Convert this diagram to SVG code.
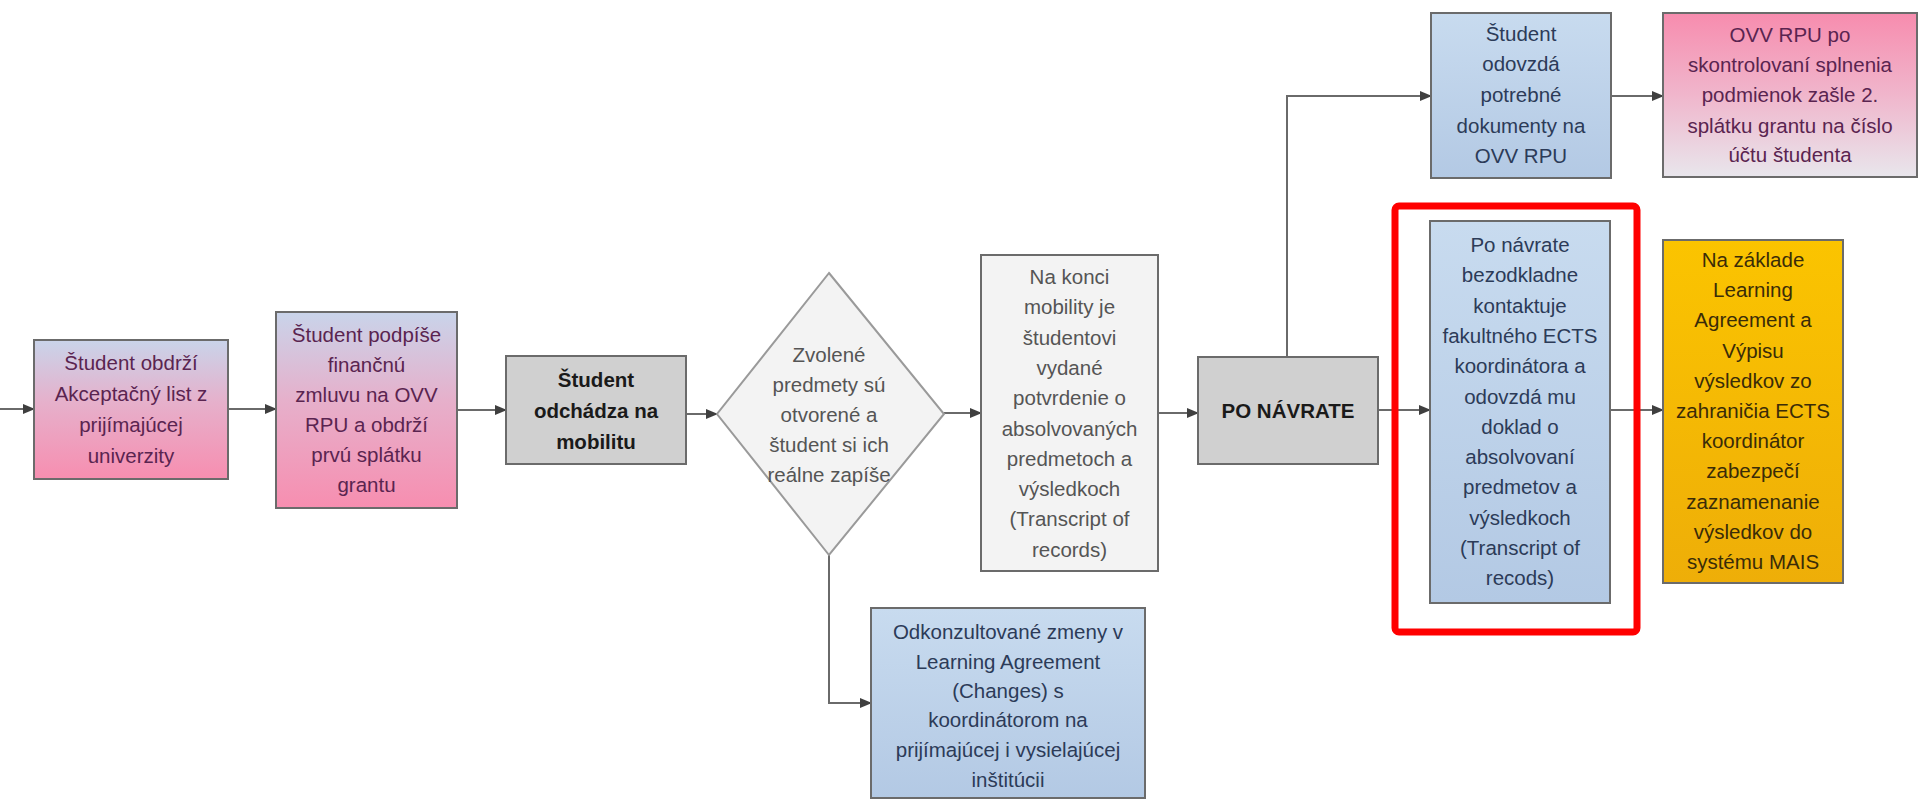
<svg xmlns="http://www.w3.org/2000/svg" width="1920" height="800" viewBox="0 0 1920 800">
<defs>
<linearGradient id="gPink" x1="0" y1="0" x2="0" y2="1">
<stop offset="0" stop-color="#c9d4ea"/><stop offset="0.45" stop-color="#e6b0cb"/><stop offset="1" stop-color="#f78eb0"/>
</linearGradient>
<linearGradient id="gPinkRev" x1="0" y1="0" x2="0" y2="1">
<stop offset="0" stop-color="#f78cae"/><stop offset="0.5" stop-color="#f0b6cc"/><stop offset="1" stop-color="#e8e6ec"/>
</linearGradient>
<linearGradient id="gBlue" x1="0" y1="0" x2="0" y2="1">
<stop offset="0" stop-color="#c8dbef"/><stop offset="1" stop-color="#b3c9e4"/>
</linearGradient>
<linearGradient id="gGold" x1="0" y1="0" x2="0" y2="1">
<stop offset="0" stop-color="#fbc400"/><stop offset="1" stop-color="#eeae08"/>
</linearGradient>
<marker id="arr" markerWidth="12" markerHeight="10" refX="11" refY="5" orient="auto" markerUnits="userSpaceOnUse">
<path d="M0,0 L12,5 L0,10 Z" fill="#3f3f3f"/>
</marker>
<style>
.box{stroke:#6b6b6b;stroke-width:2}
.conn{fill:none;stroke:#6a6a6a;stroke-width:2;marker-end:url(#arr)}
text{font-family:"Liberation Sans",Arial,sans-serif;font-size:20.5px;text-anchor:middle}
.tp{fill:#5a2450}
.tb{fill:#2c3b58}
.tg{fill:#555555}
.tk{fill:#1a1a1a;font-weight:bold}
.ty{fill:#3a2c08}
</style>
</defs>

<g id="connectors">
<path class="conn" d="M0,409 H34"/>
<path class="conn" d="M228,409 H276"/>
<path class="conn" d="M457,410 H506"/>
<path class="conn" d="M686,414 H717"/>
<path class="conn" d="M944,413 H981"/>
<path class="conn" d="M829,555 V703 H871"/>
<path class="conn" d="M1158,413 H1198"/>
<path class="conn" d="M1287,357 V96 H1431"/>
<path class="conn" d="M1611,96 H1663"/>
<path class="conn" d="M1378,410 H1430"/>
<path class="conn" d="M1610,410 H1663"/>
</g>

<g id="n1">
<rect class="box" x="34" y="340" width="194" height="139" fill="url(#gPink)"/>
<text class="tp" x="131" y="370">Študent obdrží</text>
<text class="tp" x="131" y="401">Akceptačný list z</text>
<text class="tp" x="131" y="432">prijímajúcej</text>
<text class="tp" x="131" y="463">univerzity</text>
</g>

<g id="n2">
<rect class="box" x="276" y="312" width="181" height="196" fill="url(#gPink)"/>
<text class="tp" x="366.5" y="342">Študent podpíše</text>
<text class="tp" x="366.5" y="372">finančnú</text>
<text class="tp" x="366.5" y="402">zmluvu na OVV</text>
<text class="tp" x="366.5" y="432">RPU a obdrží</text>
<text class="tp" x="366.5" y="462">prvú splátku</text>
<text class="tp" x="366.5" y="492">grantu</text>
</g>

<g id="n3">
<rect class="box" x="506" y="356" width="180" height="108" fill="#d0d0d0"/>
<text class="tk" x="596" y="387">Študent</text>
<text class="tk" x="596" y="418">odchádza na</text>
<text class="tk" x="596" y="449">mobilitu</text>
</g>

<g id="n4">
<polygon points="829,273 944,414 829,555 717,414" fill="#f3f3f3" stroke="#9a9a9a" stroke-width="2"/>
<text class="tg" x="829" y="362">Zvolené</text>
<text class="tg" x="829" y="392">predmety sú</text>
<text class="tg" x="829" y="422">otvorené a</text>
<text class="tg" x="829" y="452">študent si ich</text>
<text class="tg" x="829" y="482">reálne zapíše</text>
</g>

<g id="n5">
<rect class="box" x="871" y="608" width="274" height="190" fill="url(#gBlue)"/>
<text class="tb" x="1008" y="639">Odkonzultované zmeny v</text>
<text class="tb" x="1008" y="669">Learning Agreement</text>
<text class="tb" x="1008" y="698">(Changes) s</text>
<text class="tb" x="1008" y="727">koordinátorom na</text>
<text class="tb" x="1008" y="757">prijímajúcej i vysielajúcej</text>
<text class="tb" x="1008" y="787">inštitúcii</text>
</g>

<g id="n6">
<rect class="box" x="981" y="255" width="177" height="316" fill="#f3f3f3" stroke="#8a8a8a"/>
<text class="tg" x="1069.5" y="284">Na konci</text>
<text class="tg" x="1069.5" y="314.3">mobility je</text>
<text class="tg" x="1069.5" y="344.6">študentovi</text>
<text class="tg" x="1069.5" y="374.9">vydané</text>
<text class="tg" x="1069.5" y="405.2">potvrdenie o</text>
<text class="tg" x="1069.5" y="435.5">absolvovaných</text>
<text class="tg" x="1069.5" y="465.8">predmetoch a</text>
<text class="tg" x="1069.5" y="496.1">výsledkoch</text>
<text class="tg" x="1069.5" y="526.4">(Transcript of</text>
<text class="tg" x="1069.5" y="556.7">records)</text>
</g>

<g id="n7">
<rect class="box" x="1198" y="357" width="180" height="107" fill="#d0d0d0"/>
<text class="tk" x="1288" y="418">PO NÁVRATE</text>
</g>

<g id="n8">
<rect class="box" x="1431" y="13" width="180" height="165" fill="url(#gBlue)"/>
<text class="tb" x="1521" y="41">Študent</text>
<text class="tb" x="1521" y="71">odovzdá</text>
<text class="tb" x="1521" y="102">potrebné</text>
<text class="tb" x="1521" y="133">dokumenty na</text>
<text class="tb" x="1521" y="163">OVV RPU</text>
</g>

<g id="n9">
<rect class="box" x="1663" y="13" width="254" height="164" fill="url(#gPinkRev)"/>
<text class="tp" x="1790" y="42">OVV RPU po</text>
<text class="tp" x="1790" y="72">skontrolovaní splnenia</text>
<text class="tp" x="1790" y="102">podmienok zašle 2.</text>
<text class="tp" x="1790" y="133">splátku grantu na číslo</text>
<text class="tp" x="1790" y="162">účtu študenta</text>
</g>

<g id="n10">
<rect class="box" x="1430" y="221" width="180" height="382" fill="url(#gBlue)"/>
<text class="tb" x="1520" y="252">Po návrate</text>
<text class="tb" x="1520" y="282.3">bezodkladne</text>
<text class="tb" x="1520" y="312.6">kontaktuje</text>
<text class="tb" x="1520" y="342.9">fakultného ECTS</text>
<text class="tb" x="1520" y="373.2">koordinátora a</text>
<text class="tb" x="1520" y="403.5">odovzdá mu</text>
<text class="tb" x="1520" y="433.8">doklad o</text>
<text class="tb" x="1520" y="464.1">absolvovaní</text>
<text class="tb" x="1520" y="494.4">predmetov a</text>
<text class="tb" x="1520" y="524.7">výsledkoch</text>
<text class="tb" x="1520" y="555">(Transcript of</text>
<text class="tb" x="1520" y="585.3">recods)</text>
</g>

<g id="n11">
<rect class="box" x="1663" y="240" width="180" height="343" fill="url(#gGold)" stroke="#8a7a40"/>
<text class="ty" x="1753" y="267">Na základe</text>
<text class="ty" x="1753" y="297.2">Learning</text>
<text class="ty" x="1753" y="327.4">Agreement a</text>
<text class="ty" x="1753" y="357.6">Výpisu</text>
<text class="ty" x="1753" y="387.8">výsledkov zo</text>
<text class="ty" x="1753" y="418">zahraničia ECTS</text>
<text class="ty" x="1753" y="448.2">koordinátor</text>
<text class="ty" x="1753" y="478.4">zabezpečí</text>
<text class="ty" x="1753" y="508.6">zaznamenanie</text>
<text class="ty" x="1753" y="538.8">výsledkov do</text>
<text class="ty" x="1753" y="569">systému MAIS</text>
</g>

<g id="highlight">
<rect x="1395" y="206" width="242" height="426" rx="4" fill="none" stroke="#ff0000" stroke-width="7"/>
</g>
</svg>
